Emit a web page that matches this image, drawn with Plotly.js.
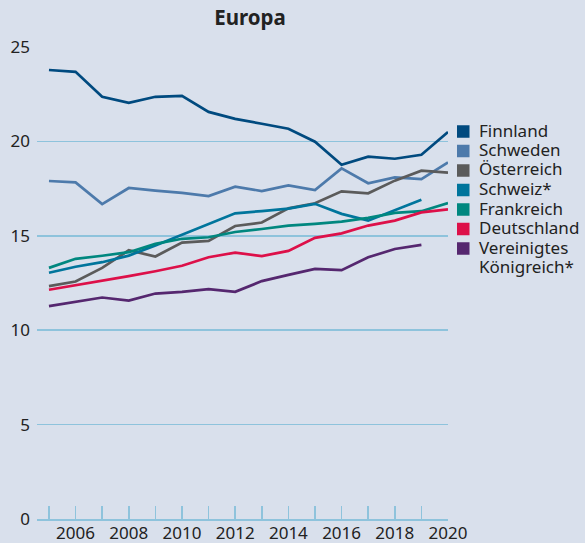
<!DOCTYPE html>
<html>
<head>
<meta charset="utf-8">
<script src="https://cdn.plot.ly/plotly-3.0.1.min.js"></script>
<style>html,body{margin:0;padding:0;background:#d9e0ec;}#chart{width:585px;height:543px;}</style>
</head>
<body>
<div id="chart"></div>
<script>
const years = [2005,2006,2007,2008,2009,2010,2011,2012,2013,2014,2015,2016,2017,2018,2019,2020];
const yearLabels = ['', '2006', '', '2008', '', '2010', '', '2012', '', '2014', '', '2016', '', '2018', '', '2020'];

const finnland    = [23.78,23.68,22.36,22.04,22.36,22.41,21.56,21.19,20.93,20.67,19.98,18.76,19.19,19.08,19.29,20.50];
const schweden    = [17.90,17.83,16.68,17.53,17.39,17.27,17.10,17.60,17.37,17.67,17.42,18.57,17.78,18.09,18.00,18.88];
const oesterreich = [12.33,12.58,13.30,14.23,13.90,14.64,14.73,15.52,15.70,16.45,16.72,17.35,17.25,17.92,18.45,18.34];
const schweiz     = [13.04,13.36,13.60,13.95,14.48,15.05,15.63,16.19,16.31,16.44,16.69,16.16,15.80,16.37,16.91,null];
const frankreich  = [13.30,13.78,13.94,14.13,14.57,14.84,14.92,15.20,15.36,15.54,15.63,15.75,15.95,16.21,16.30,16.73];
const deutschland = [12.14,12.37,12.63,12.86,13.12,13.41,13.86,14.11,13.92,14.20,14.89,15.13,15.54,15.80,16.24,16.40];
const uk          = [11.27,11.50,11.73,11.57,11.94,12.03,12.17,12.03,12.60,12.93,13.25,13.18,13.86,14.30,14.52,null];

const names  = ['Finnland','Schweden','Österreich','Schweiz*','Frankreich','Deutschland','Vereinigtes<br>Königreich*'];
const series = [finnland, schweden, oesterreich, schweiz, frankreich, deutschland, uk];
const colors = ['#004a7f','#4d7aab','#5b5b5b','#00759c','#00877f','#dd1049','#55276f'];

// plot-area geometry (pixels)
const W = 585, H = 543;
const M = {l: 37, r: 137, t: 46, b: 24};
const PW = W - M.l - M.r, PH = H - M.t - M.b;
const px2x = p => (p - M.l) / PW;
const py2y = p => (H - M.b - p) / PH;

const traces = series.map((s, i) => ({
  x: years, y: s, type: 'scatter', mode: 'lines', name: names[i].replace('<br>', ' '),
  line: {color: colors[i], width: 2.7}, showlegend: false
}));

// custom legend (squares + labels)
const annotations = [];
const shapes = [];
const legendTop = 130, legendStep = 19.5, sq = 12.5;
let row = 0;
names.forEach((n, i) => {
  const cy = legendTop + row * legendStep;
  shapes.push({type: 'rect', xref: 'paper', yref: 'paper',
    x0: px2x(457), x1: px2x(457 + sq), y0: py2y(cy + 1.5 - sq / 2), y1: py2y(cy + 1.5 + sq / 2),
    fillcolor: colors[i], line: {width: 0}});
  n.split('<br>').forEach(part => {
    const y = legendTop + row * legendStep;
    annotations.push({text: part, xref: 'paper', yref: 'paper', x: px2x(478), y: py2y(y),
      xanchor: 'left', yanchor: 'middle', showarrow: false, borderpad: 0,
      font: {size: 17, color: '#222222'}});
    row++;
  });
});

const layout = {
  width: W, height: H,
  paper_bgcolor: '#d9e0ec', plot_bgcolor: '#d9e0ec',
  font: {family: 'Noto Sans, sans-serif', color: '#222222', size: 16},
  margin: {l: M.l, r: M.r, t: M.t, b: M.b, autoexpand: false},
  title: {text: '<b>Europa</b>', font: {size: 20.5, color: '#222222'}, x: 250/585, xanchor: 'center', xref: 'container', y: 1 - 18/543, yanchor: 'middle', yref: 'container'},
  xaxis: {
    range: [2004.55, 2020], tickvals: years, ticktext: yearLabels,
    ticks: 'inside', ticklen: 13, tickwidth: 1.5, tickcolor: '#8ec3dc',
    showgrid: false, zeroline: false, showline: true, linecolor: '#8ec3dc', linewidth: 1.5,
    tickfont: {size: 17}, ticklabelstandoff: -2, fixedrange: true
  },
  yaxis: {
    range: [0, 25.05], tickvals: [0,5,10,15,20,25],
    showgrid: true, gridcolor: '#8ec3dc', gridwidth: 1.5, zeroline: false,
    ticks: '', tickfont: {size: 17}, ticklabelstandoff: 6, fixedrange: true
  },
  annotations: annotations,
  shapes: shapes,
  showlegend: false
};

Plotly.newPlot('chart', traces, layout, {displayModeBar: false, staticPlot: true});
</script>
</body>
</html>
